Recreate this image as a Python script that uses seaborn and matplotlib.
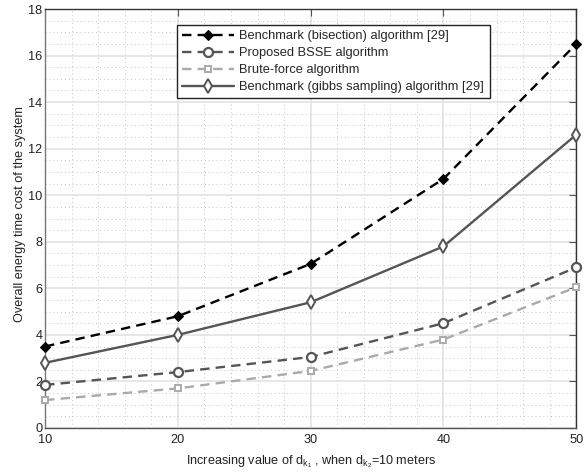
import numpy as np
import pandas as pd
import matplotlib
matplotlib.use("Agg")
import matplotlib.pyplot as plt
import seaborn as sns
from matplotlib.ticker import MultipleLocator

x_vals = [10, 20, 30, 40, 50]
bisection = [3.5, 4.8, 7.05, 10.7, 16.5]
bsse = [1.85, 2.4, 3.05, 4.5, 6.9]
brute = [1.2, 1.7, 2.45, 3.8, 6.05]
gibbs = [2.8, 4.0, 5.4, 7.8, 12.6]
labels = ["Benchmark (bisection) algorithm [29]",
          "Proposed BSSE algorithm",
          "Brute-force algorithm",
          "Benchmark (gibbs sampling) algorithm [29]"]

sns.set_style("white")
plt.rcParams['font.family'] = ['Liberation Sans', 'DejaVu Sans']
plt.rcParams['mathtext.fontset'] = 'custom'
plt.rcParams['mathtext.rm'] = 'Liberation Sans'
plt.rcParams['mathtext.it'] = 'Liberation Sans'

fig = plt.figure(figsize=(5.85, 4.75), dpi=100)
ax = fig.add_axes([0.077, 0.099, 0.908, 0.882])

dash = (0, (4, 2.6))
styles = [
    dict(color="black", linestyle=dash, marker="D", markersize=5.5,
         markerfacecolor="black", markeredgecolor="black"),
    dict(color="#555555", linestyle=dash, marker="o", markersize=6.5,
         markerfacecolor="white", markeredgecolor="#555555", markeredgewidth=1.6),
    dict(color="#aaaaaa", linestyle=dash, marker="s", markersize=5,
         markerfacecolor="white", markeredgecolor="#aaaaaa", markeredgewidth=1.4),
    dict(color="#555555", linestyle="-", marker="d", markersize=7.5,
         markerfacecolor="white", markeredgecolor="#555555", markeredgewidth=1.4),
]
series = [bisection, bsse, brute, gibbs]
for vals, lab, st in zip(series, labels, styles):
    df = pd.DataFrame({"x": x_vals, "y": vals})
    sns.lineplot(data=df, x="x", y="y", ax=ax, label=lab, linewidth=1.7,
                 clip_on=False, zorder=3, **st)

ax.set_xlim(10, 50)
ax.set_ylim(0, 18)
ax.xaxis.set_major_locator(MultipleLocator(10))
ax.xaxis.set_minor_locator(MultipleLocator(2))
ax.yaxis.set_major_locator(MultipleLocator(2))
ax.yaxis.set_minor_locator(MultipleLocator(0.5))
ax.grid(True, which="major", color="#e3e3e3", linewidth=1.2, linestyle="-")
ax.grid(True, which="minor", color="#c4c4c4", linewidth=0.7, linestyle=(0, (1, 3)))
ax.set_axisbelow(True)
for sp in ax.spines.values():
    sp.set_color("#333333")
    sp.set_linewidth(1.0)
ax.spines['left'].set_color("#777777")
ax.spines['bottom'].set_color("#555555")
ax.tick_params(which="major", direction="in", length=5, top=True, right=True,
               labelsize=9.2, colors="#555555", labelcolor="#222222")
ax.tick_params(axis="x", which="major", pad=4.5)
ax.tick_params(axis="y", which="major", pad=2)
ax.tick_params(which="minor", length=0)

ax.set_xlabel(r"Increasing value of d$_{\mathrm{k}_{\mathrm{1}}}$ , when d$_{\mathrm{k}_{\mathrm{2}}}$=10 meters",
              fontsize=9.1, color="#222222", labelpad=5)
ax.set_ylabel("Overall energy time cost of the system", fontsize=9.1, color="#222222")
ax.yaxis.set_label_coords(-0.036, 0.51)

leg = ax.legend(loc="upper left", bbox_to_anchor=(0.2486, 0.5, 0.5895, 0.4618),
                mode="expand", fontsize=9.3,
                frameon=True, fancybox=False, edgecolor="#222222", framealpha=1,
                borderpad=0.4, labelspacing=0.38, handlelength=4.0,
                handletextpad=0.4, borderaxespad=0)
leg.get_frame().set_linewidth(1.0)

fig.savefig("out.png", dpi=100)
